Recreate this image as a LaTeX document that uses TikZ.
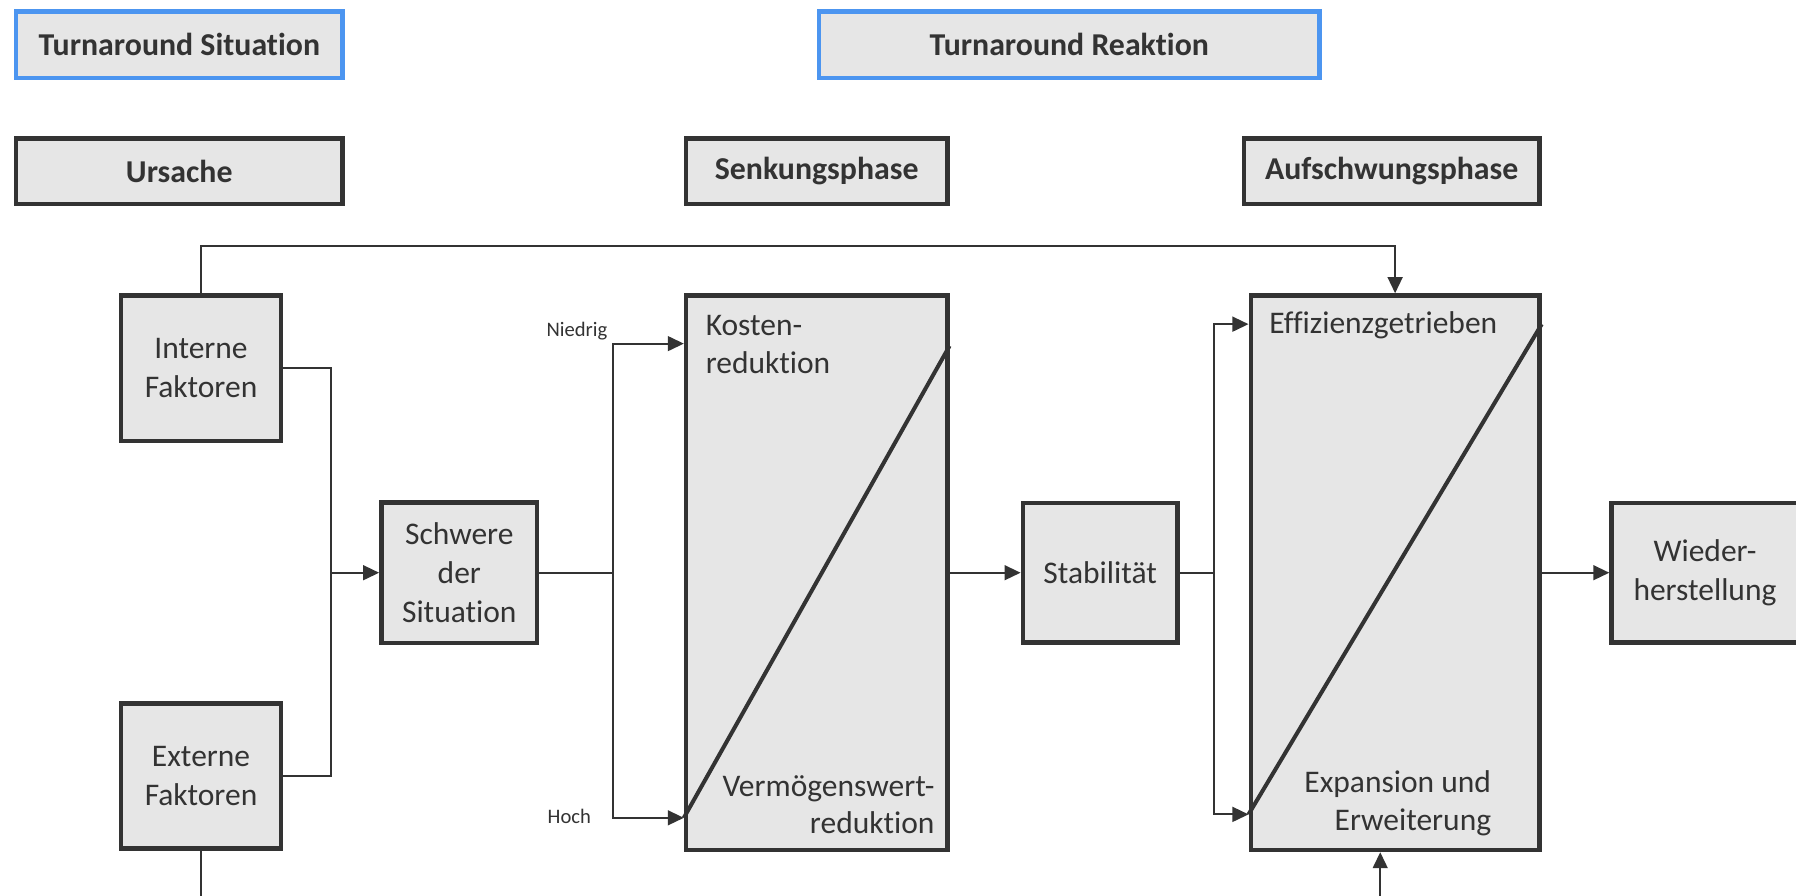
\documentclass[tikz,border=0pt]{standalone}
\usepackage{fontspec}
\setmainfont{Carlito}[Ligatures=NoCommon]
\usetikzlibrary{arrows.meta}
\definecolor{dk}{HTML}{333333}
\definecolor{bg}{HTML}{E6E6E6}
\definecolor{bl}{HTML}{4C95F0}
\newcommand{\bodyfs}{\fontsize{27.5}{34}\selectfont}
\newcommand{\hdrfs}{\fontsize{27.8}{32}\selectfont}
\newcommand{\smallfs}{\fontsize{18}{22}\selectfont}
\tikzset{
  hdrb/.style={draw=bl, line width=4pt, fill=bg, text=dk, font=\bfseries\hdrfs, minimum height=58pt, inner sep=0pt},
  hdrd/.style={hdrb, draw=dk, minimum height=57pt},
  boxn/.style={draw=dk, line width=4pt, fill=bg, text=dk, font=\bodyfs, align=center, inner sep=0pt},
  conn/.style={draw=dk, line width=1.6pt},
  diag/.style={draw=dk, line width=3.5pt},
  lbl/.style={text=dk, font=\bodyfs, inner sep=0pt},
  smalllbl/.style={text=dk, font=\smallfs, inner sep=0pt}
}
\begin{document}
\begin{tikzpicture}[x=1pt,y=-1pt,>={Triangle[length=14pt,width=13pt]}]
\useasboundingbox (0,0) rectangle (1568,782);
% header boxes
\node[hdrb, minimum width=285pt] (ts) at (156.5,39) {Turnaround Situation};
\node[hdrb, minimum width=437pt] (tr) at (933.5,39) {Turnaround Reaktion};
\node[hdrd, minimum width=285pt] (urs) at (156.5,149.5) {Ursache};
\node[hdrd, minimum width=228pt] (senk) at (713,149.5) {Senkungsphase};
\node[hdrd, minimum width=258pt] (auf) at (1215,149.5) {Aufschwungsphase};
% main boxes
\node[boxn, minimum width=140pt, minimum height=127pt] (int) at (175.5,321.5) {Interne\\Faktoren};
\node[boxn, minimum width=140pt, minimum height=127pt] (ext) at (175.5,677.5) {Externe\\Faktoren};
\node[boxn, minimum width=136pt, minimum height=123pt] (sch) at (401,500) {Schwere\\der\\Situation};
\node[boxn, minimum width=228pt, minimum height=484pt] (kos) at (713,500) {};
\node[boxn, minimum width=135pt, minimum height=122pt] (stab) at (960.5,500) {Stabilität};
\node[boxn, minimum width=252pt, minimum height=484pt] (eff) at (1218,500) {};
\node[boxn, minimum width=163pt, minimum height=122pt] (wied) at (1488.5,500) {Wieder-\\herstellung};
% helper coordinates
\path (kos.west) ++(0,-200) coordinate (kN);
\path (kos.west) ++(0,214) coordinate (kH);
\path (kos.east) ++(0,-198) coordinate (kT);
\path (eff.west) ++(0,-217) coordinate (eN);
\path (eff.west) ++(0,211) coordinate (eH);
\path (eff.east) ++(0,-217) coordinate (eT);
\coordinate (jL) at (289,500);
\coordinate (jM) at (535,500);
\coordinate (jR) at (1060,500);
\coordinate (topR) at (1218,215);
\coordinate (botE) at (1205,790);
\coordinate (botX) at (175.5,790);
% diagonals
\draw[diag] (kH) -- (kT);
\draw[diag] (eH) -- (eT);
% texts inside split boxes
\node[lbl, anchor=base west] (kos1) at (616,293) {Kosten-};
\node[lbl, anchor=base west] (kos2) at (616,326) {reduktion};
\node[lbl, anchor=base east] (kos3) at (816,695) {Vermögenswert-};
\node[lbl, anchor=base east] (kos4) at (816,728) {reduktion};
\node[lbl, anchor=base west] (eff1) at (1108,291) {Effizienzgetrieben};
\node[lbl, anchor=base east] (eff2) at (1302,692) {Expansion und};
\node[lbl, anchor=base east] (eff3) at (1302,725) {Erweiterung};
\node[smalllbl, anchor=base west] (nied) at (477,294) {Niedrig};
\node[smalllbl, anchor=base west] (hoch) at (478,719) {Hoch};
% connectors
\draw[conn,->] (int.north) |- (topR) -- (eff.north);
\draw[conn] (int.east) -| (jL);
\draw[conn] (ext.east) -| (jL);
\draw[conn,->] (jL) -- (sch.west);
\draw[conn] (ext.south) -- (botX);
\draw[conn] (sch.east) -- (jM);
\draw[conn,->] (jM) |- (kN);
\draw[conn,->] (jM) |- (kH);
\draw[conn,->] (kos.east) -- (stab.west);
\draw[conn] (stab.east) -- (jR);
\draw[conn,->] (jR) |- (eN);
\draw[conn,->] (jR) |- (eH);
\draw[conn,->] (eff.east) -- (wied.west);
\draw[conn,->] (botE) -- (eff.south -| botE);
\end{tikzpicture}
\end{document}
